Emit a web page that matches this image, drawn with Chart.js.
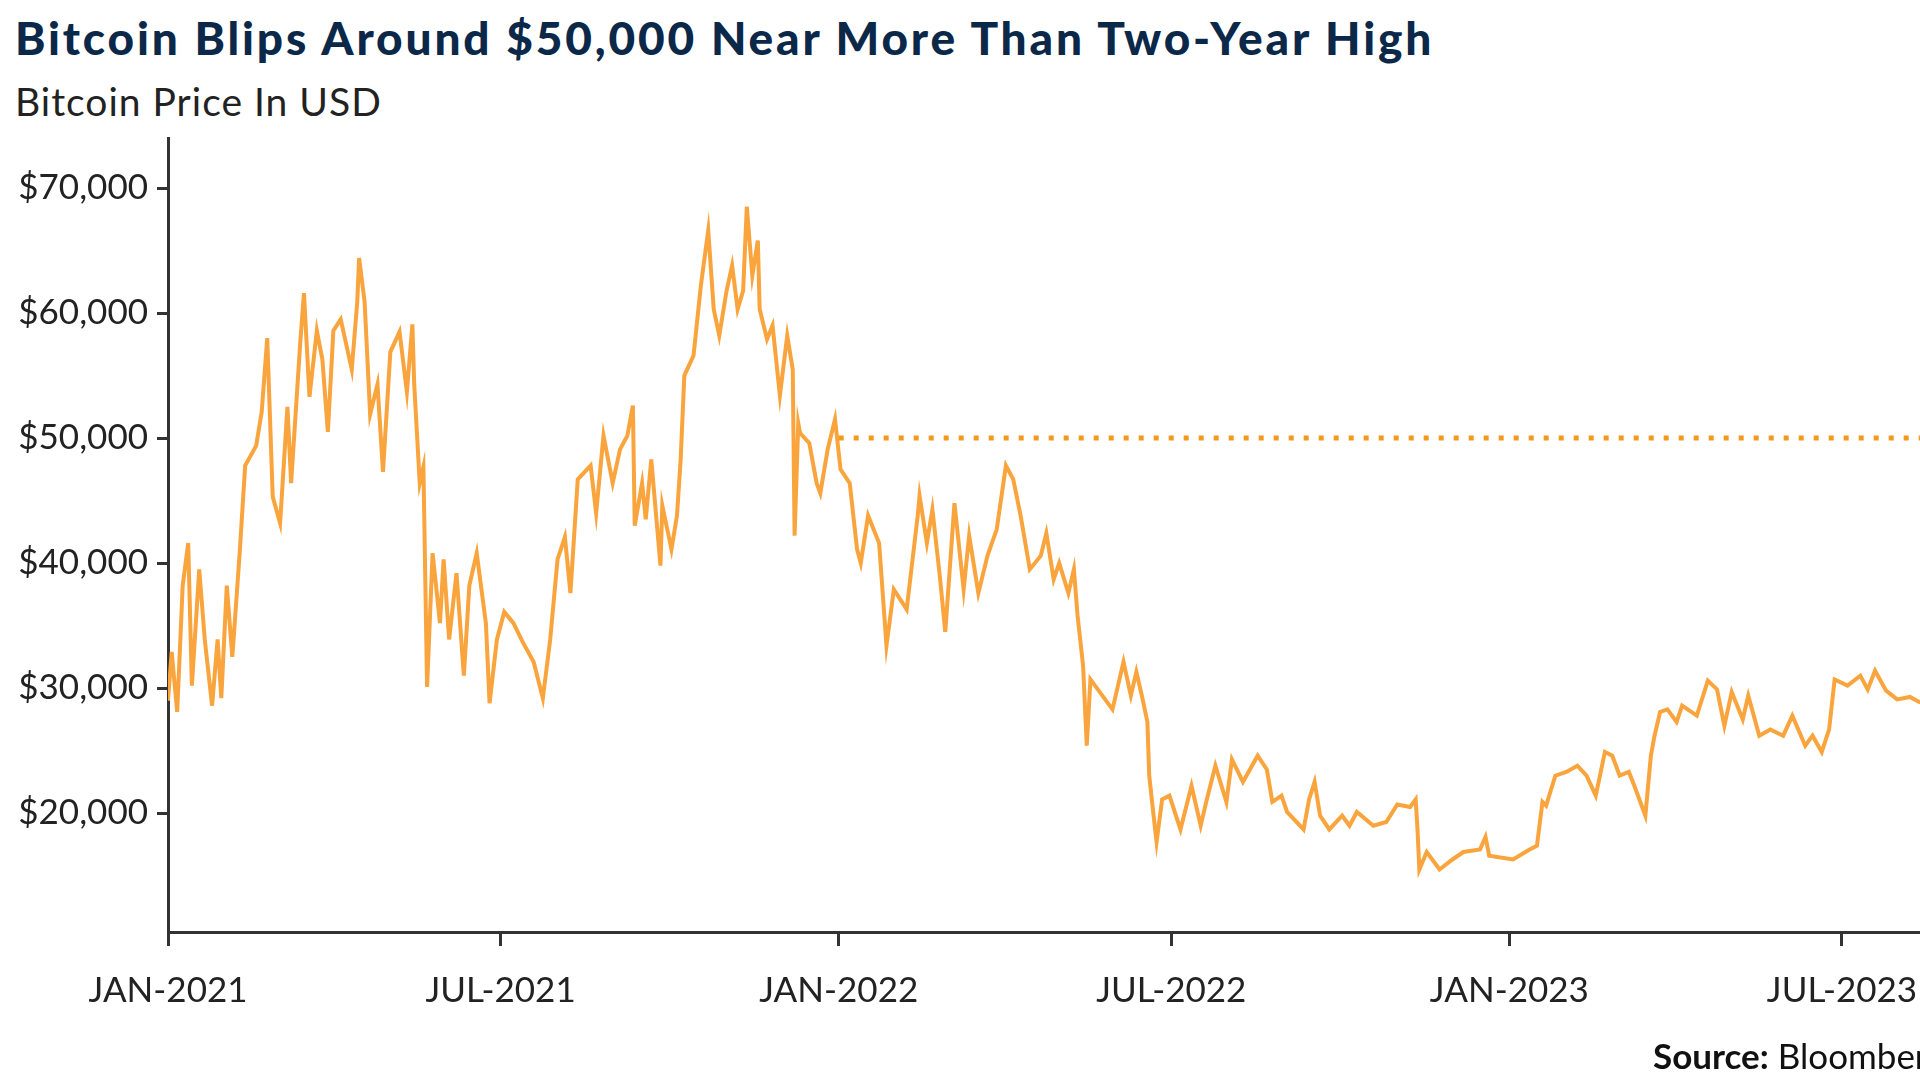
<!DOCTYPE html>
<html>
<head>
<meta charset="utf-8">
<script src="https://cdn.jsdelivr.net/npm/chart.js@4.4.1/dist/chart.umd.min.js"></script>
<style>
  html, body { margin: 0; padding: 0; background: #fff; width: 1920px; height: 1081px; overflow: hidden; }
  #wrap { position: absolute; left: 0; top: 0; width: 1920px; height: 1081px; overflow: hidden; background: #fff; }
  #holder { position: absolute; left: 0; top: 0; width: 2000px; height: 1081px; }
  .t { position: absolute; white-space: nowrap; font-family: Lato, sans-serif; line-height: 1; }
  #title { left: 15px; top: 15px; font-size: 46px; font-weight: 900; color: #0c2849; letter-spacing: 2.85px; }
  #sub { left: 15px; top: 82px; font-size: 39px; font-weight: 400; color: #222; letter-spacing: 1px; }
  #src { left: 1653px; top: 1038px; font-size: 35px; font-weight: 400; color: #111; }
  #src b { font-weight: 700; }
</style>
</head>
<body>
<div id="wrap">
  <div class="t" id="title">Bitcoin Blips Around $50,000 Near More Than Two-Year High</div>
  <div class="t" id="sub">Bitcoin Price In USD</div>
  <div id="holder"><canvas id="c" width="2000" height="1081"></canvas></div>
  <div class="t" id="src"><b>Source:</b> Bloomberg</div>
</div>
<script>
// Days since 2021-01-01 and Bitcoin price (USD)
const days = [
  0, 2, 5, 8, 11, 13, 17, 20, 24, 27, 29, 32, 35, 39, 42, 48, 51, 54, 57, 61,
  65, 67, 72, 74, 77, 81, 84, 87, 90, 94, 100, 103, 104, 107, 110, 114, 117, 121, 126, 130,
  133, 134, 137, 139, 141, 144, 148, 150, 153, 157, 161, 164, 168, 173, 175, 179, 183, 188, 193, 199,
  204, 208, 212, 216, 219, 223, 230, 233, 237, 242, 246, 250, 253, 254, 258, 260, 263, 268, 269, 274,
  277, 279, 281, 286, 290, 294, 297, 300, 304, 307, 310, 313, 315, 318, 321, 322, 326, 329, 333, 337,
  340, 341, 343, 344, 349, 353, 355, 359, 363, 366, 371, 375, 377, 381, 387, 391, 395, 402, 408, 409,
  413, 416, 420, 423, 428, 433, 436, 441, 446, 451, 456, 460, 464, 469, 475, 478, 482, 485, 490, 493,
  495, 498, 500, 502, 507, 514, 520, 524, 527, 530, 533, 534, 536, 538, 541, 545, 551, 557, 562, 565,
  570, 576, 579, 585, 593, 598, 601, 606, 609, 618, 621, 624, 627, 632, 639, 643, 647, 656, 663, 669,
  676, 679, 680, 681, 685, 692, 699, 705, 714, 717, 719, 732, 741, 745, 748, 750, 755, 761, 767, 772,
  777, 782, 786, 790, 795, 798, 804, 807, 809, 812, 816, 821, 824, 832, 838, 843, 847, 851, 857, 860,
  866, 872, 879, 884, 891, 895, 900, 904, 907, 914, 921, 925, 929, 935, 941, 948, 953, 958
];
const prices = [
  29000, 32900, 28100, 38200, 41600, 30200, 39500, 33900, 28600, 33900, 29200, 38200, 32500, 40800, 47800, 49400, 52100, 58000, 45300, 43200,
  52500, 46400, 57700, 61600, 53300, 58600, 56300, 50500, 58600, 59500, 55500, 60900, 64400, 60900, 51900, 54300, 47300, 56900, 58500, 53700,
  59100, 54300, 46400, 47700, 30100, 40800, 35200, 40300, 33900, 39200, 31000, 38200, 40800, 35200, 28800, 33900, 36100, 35200, 33700, 32100,
  29200, 33900, 40300, 42100, 37600, 46700, 47800, 44000, 50200, 46400, 49100, 50200, 52600, 43000, 46400, 43500, 48300, 39800, 44600, 41100,
  43800, 48300, 55000, 56600, 62200, 66600, 60300, 58200, 61800, 63800, 60300, 61800, 68500, 63000, 65800, 60300, 57900, 59000, 53400, 58200,
  55500, 42200, 51200, 50400, 49600, 46400, 45600, 49100, 51500, 47500, 46400, 41100, 40000, 43800, 41600, 33400, 37900, 36300, 43800, 45400,
  41600, 44300, 39000, 34500, 44800, 37900, 42200, 37600, 40600, 42700, 47800, 46700, 43800, 39500, 40600, 42400, 38700, 40000, 37600, 39500,
  35800, 31800, 25400, 30700, 29700, 28300, 32100, 29400, 31300, 29400, 27300, 23000, 20300, 17700, 21100, 21400, 18700, 22200, 19000, 20900,
  23800, 20900, 24300, 22500, 24600, 23500, 20900, 21400, 20100, 18700, 21100, 22500, 19800, 18700, 19800, 19000, 20100, 19000, 19300, 20700,
  20500, 21100, 18700, 15500, 16900, 15500, 16300, 16900, 17100, 18100, 16600, 16300, 17100, 17400, 20900, 20600, 23000, 23300, 23800, 23000,
  21400, 24900, 24600, 23000, 23300, 22200, 19800, 24600, 26200, 28100, 28300, 27300, 28600, 27800, 30600, 29900, 27000, 29700, 27500, 29400,
  26200, 26700, 26200, 27800, 25400, 26200, 24900, 26700, 30700, 30200, 31000, 29900, 31400, 29800, 29100, 29300, 28900, 29000
];
// $50,000 reference level, drawn from January 2022 onward
const refLevel = 50000;
const refStartDay = 365;
const refEndDay = 997;

const xTickDays = [0, 181, 365, 546, 730, 911];
const xTickLabels = ['JAN-2021', 'JUL-2021', 'JAN-2022', 'JUL-2022', 'JAN-2023', 'JUL-2023'];
const yTickValues = [20000, 30000, 40000, 50000, 60000, 70000];
const yMin = 10500, yMax = 74000;

function build() {
  const priceData = days.map((d, i) => ({ x: d, y: prices[i] }));
  const refData = [{ x: refStartDay, y: refLevel }, { x: refEndDay, y: refLevel }];
  const tickFont = { family: 'Lato', size: 35, weight: '400' };

  new Chart(document.getElementById('c'), {
    type: 'line',
    data: {
      datasets: [
        {
          label: 'Bitcoin',
          data: priceData,
          borderColor: '#f9a43c',
          borderWidth: 4,
          pointRadius: 0,
          tension: 0,
          borderJoinStyle: 'miter',
          order: 2
        },
        {
          label: '$50,000',
          data: refData,
          borderColor: '#f4991c',
          borderWidth: 5,
          borderDash: [5, 10],
          borderCapStyle: 'butt',
          pointRadius: 0,
          order: 1
        }
      ]
    },
    options: {
      responsive: false,
      devicePixelRatio: 1,
      animation: false,
      events: [],
      layout: { padding: { top: 138, left: 0, right: 0, bottom: 0 } },
      plugins: { legend: { display: false }, tooltip: { enabled: false }, title: { display: false } },
      scales: {
        x: {
          type: 'linear',
          min: 0,
          max: refEndDay,
          afterBuildTicks: (s) => { s.ticks = xTickDays.map(v => ({ value: v })); },
          afterFit: (s) => { s.height = 1081 - 932; },
          ticks: {
            autoSkip: false,
            maxRotation: 0,
            minRotation: 0,
            color: '#222',
            font: tickFont,
            padding: 24,
            callback: (v, i) => xTickLabels[i]
          },
          grid: { drawOnChartArea: false, drawTicks: true, tickLength: 14, tickWidth: 3, color: '#333' },
          border: { display: true, color: '#333', width: 3 }
        },
        y: {
          min: yMin,
          max: yMax,
          afterBuildTicks: (s) => { s.ticks = yTickValues.map(v => ({ value: v })); },
          afterFit: (s) => { s.width = 168; },
          ticks: {
            color: '#222',
            font: tickFont,
            padding: 9,
            callback: (v) => '$' + Number(v).toLocaleString('en-US')
          },
          grid: { drawOnChartArea: false, drawTicks: true, tickLength: 11, tickWidth: 3, color: '#333' },
          border: { display: true, color: '#333', width: 3 }
        }
      }
    }
  });
}

if (document.fonts && document.fonts.load) {
  Promise.all([document.fonts.load('35px Lato'), document.fonts.load('900 46px Lato')])
    .then(build, build);
} else {
  build();
}
</script>
</body>
</html>
